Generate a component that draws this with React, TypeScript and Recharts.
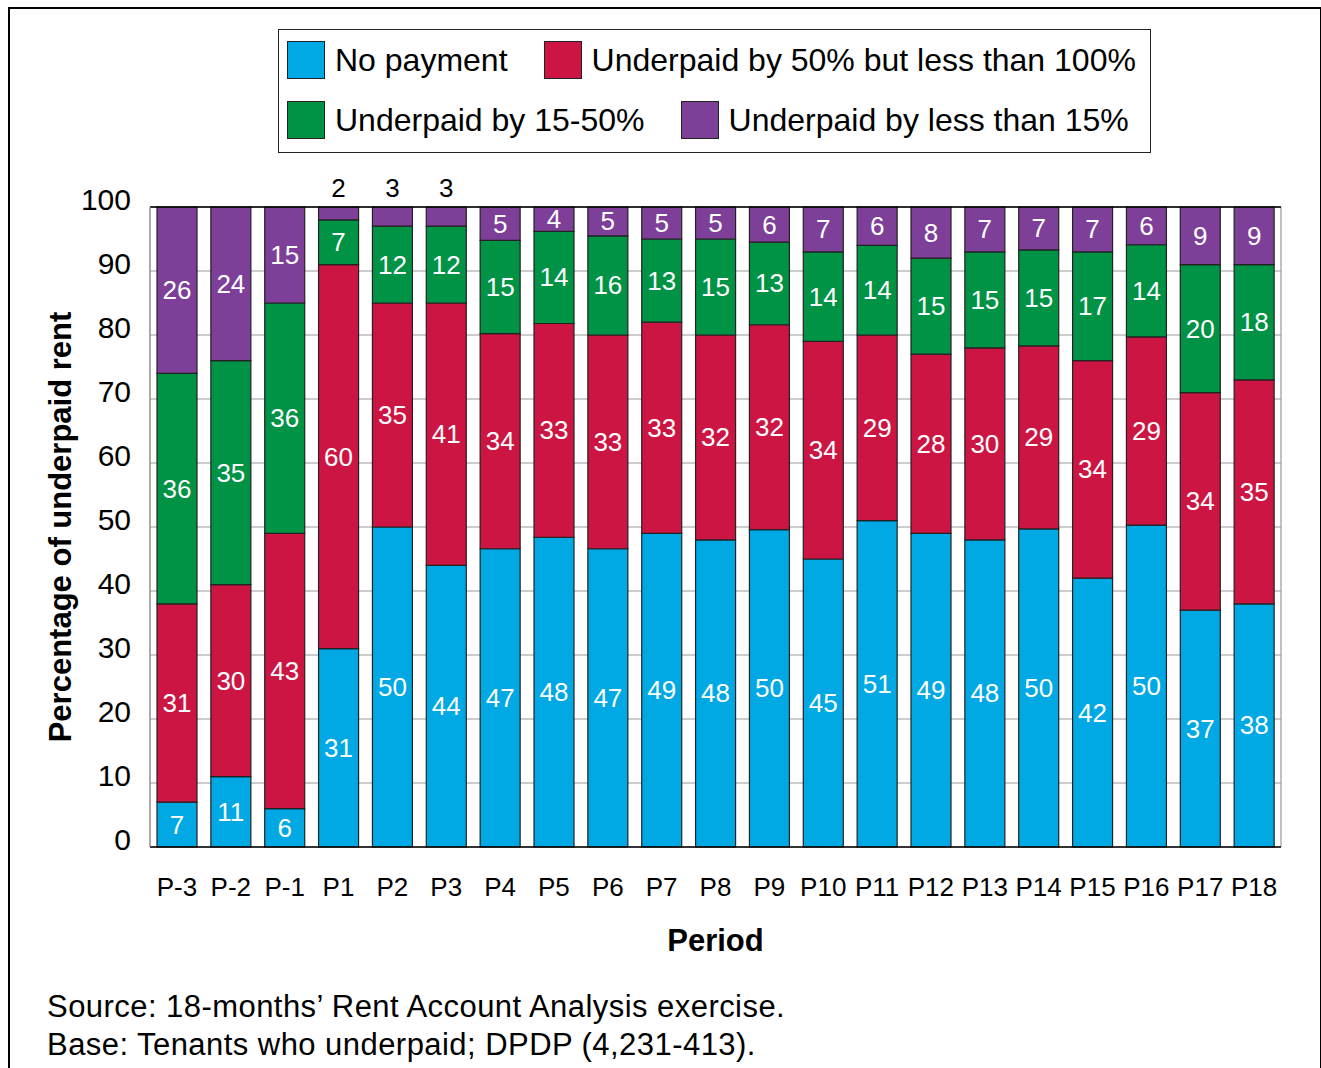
import React from "react";
import {
  BarChart,
  Bar,
  XAxis,
  YAxis,
  CartesianGrid,
  ReferenceLine,
  LabelList,
} from "recharts";

const FONT = "'Liberation Sans', Arial, Helvetica, sans-serif";

const periods = [
  "P-3", "P-2", "P-1", "P1", "P2", "P3", "P4", "P5", "P6", "P7", "P8",
  "P9", "P10", "P11", "P12", "P13", "P14", "P15", "P16", "P17", "P18",
];

// shares per period (rounded labels are shown on the bars)
const noPayment = [7, 11, 6, 31, 50, 44, 46.6, 48.4, 46.6, 49, 48, 49.6, 45, 51, 49, 48, 49.7, 42, 50.3, 37, 38];
const under50to100 = [31, 30, 43, 60, 35, 41, 33.6, 33.4, 33.4, 33, 32, 32, 34, 29, 28, 30, 28.6, 34, 29.4, 34, 35];
const under15to50 = [36, 35, 36, 7, 12, 12, 14.6, 14.4, 15.5, 13, 15, 12.9, 14, 14, 15, 15, 15, 17, 14.4, 20, 18];
const underLess15 = [26, 24, 15, 2, 3, 3, 5.2, 3.8, 4.5, 5, 5, 5.5, 7, 6, 8, 7, 6.7, 7, 5.9, 9, 9];

const yTicks = [0, 10, 20, 30, 40, 50, 60, 70, 80, 90, 100];

const series = [
  { key: "noPayment", name: "No payment", color: "#00A8E4" },
  { key: "under50to100", name: "Underpaid by 50% but less than 100%", color: "#CC1543" },
  { key: "under15to50", name: "Underpaid by 15-50%", color: "#009245" },
  { key: "underLess15", name: "Underpaid by less than 15%", color: "#7D3F98" },
];

const data = periods.map((p, i) => ({
  period: p,
  noPayment: noPayment[i],
  under50to100: under50to100[i],
  under15to50: under15to50[i],
  underLess15: underLess15[i],
}));

const SegmentLabel = (props: any) => {
  const { x, y, width, height, value } = props;
  const v = Math.round(Number(value));
  const cx = Number(x) + Number(width) / 2;
  if (Number(value) < 3.5) {
    return (
      <text x={cx} y={Number(y) - 19} textAnchor="middle" dominantBaseline="central"
        fontSize={26} fontFamily={FONT} fill="#000">{v}</text>
    );
  }
  return (
    <text x={cx} y={Number(y) + Number(height) / 2} textAnchor="middle" dominantBaseline="central"
      fontSize={26} fontFamily={FONT} fill="#fff">{v}</text>
  );
};

const YTick = (props: any) => {
  const { x, y, payload } = props;
  return (
    <text x={x} y={y - 8} textAnchor="end" dominantBaseline="central"
      fontSize={30} fontFamily={FONT} fill="#000">{payload.value}</text>
  );
};

const XTick = (props: any) => {
  const { x, y, payload } = props;
  return (
    <text x={x} y={y} dy="0.71em" textAnchor="middle"
      fontSize={26} fontFamily={FONT} fill="#000">{payload.value}</text>
  );
};

const YLabel = (props: any) => {
  const vb = props.viewBox || {};
  const cx = 50;
  const cy = vb.height ? vb.y + vb.height / 2 : 517;
  return (
    <text x={cx} y={cy} transform={`rotate(-90 ${cx} ${cy})`} textAnchor="middle"
      dominantBaseline="central" fontSize={31} fontWeight="bold" fontFamily={FONT} fill="#000">
      Percentage of underpaid rent
    </text>
  );
};

const Swatch = ({ color }: { color: string }) => (
  <span style={{ display: "inline-block", width: 36, height: 36, background: color, border: "1px solid #222", marginRight: 10 }} />
);

export default function App() {
  const rows = [series.slice(0, 2), series.slice(2, 4)];
  return (
    <div style={{ position: "fixed", left: 8, top: 7, width: 1314, height: 1080, border: "2px solid #000", boxSizing: "border-box", fontFamily: FONT, background: "#fff" }}>
      <BarChart
        width={1310}
        height={1000}
        data={data}
        margin={{ top: 198, right: 39, left: 20, bottom: 52 }}
        style={{ position: "absolute", left: 0, top: 0 }}
      >
        <CartesianGrid
          stroke="#999"
          strokeWidth={1.2}
          verticalCoordinatesGenerator={({ offset }: any) => [offset.left, offset.left + offset.width]}
        />
        <XAxis
          dataKey="period"
          height={110}
          tickLine={false}
          tickMargin={25}
          axisLine={{ stroke: "#000", strokeWidth: 1.5 }}
          tick={<XTick />}
          interval={0}
          label={{ value: "Period", position: "insideBottom", offset: 6, fontSize: 31, fontWeight: "bold", fill: "#000", fontFamily: FONT }}
        />
        <YAxis
          width={120}
          domain={[0, 100]}
          ticks={yTicks}
          tickLine={false}
          tickMargin={13}
          axisLine={{ stroke: "#999", strokeWidth: 1.2 }}
          tick={<YTick />}
          label={(p: any) => <YLabel {...p} />}
        />
        <ReferenceLine y={100} stroke="#000" strokeWidth={1.5} />
        {series.map((s) => (
          <Bar key={s.key} dataKey={s.key} name={s.name} stackId="a" fill={s.color}
            stroke="#222" strokeWidth={1.2} barSize={40} isAnimationActive={false}>
            <LabelList dataKey={s.key} content={<SegmentLabel />} />
          </Bar>
        ))}
      </BarChart>

      <div style={{ position: "absolute", left: 268, top: 20, width: 873, height: 124, border: "1.5px solid #222", boxSizing: "border-box", padding: "11px 8px" }}>
        {rows.map((row, ri) => (
          <div key={ri} style={{ display: "flex", alignItems: "center", height: 38, marginBottom: ri === 0 ? 22 : 0 }}>
            {row.map((s) => (
              <span key={s.key} style={{ display: "inline-flex", alignItems: "center", marginRight: 36, fontSize: 32, whiteSpace: "nowrap" }}>
                <Swatch color={s.color} />
                {s.name}
              </span>
            ))}
          </div>
        ))}
      </div>

      <div style={{ position: "absolute", left: 37, top: 979, fontSize: 31, letterSpacing: 0.45, lineHeight: "38px", color: "#000", whiteSpace: "nowrap" }}>
        <div>Source: 18-months’ Rent Account Analysis exercise.</div>
        <div>Base: Tenants who underpaid; DPDP (4,231-413).</div>
      </div>
    </div>
  );
}
